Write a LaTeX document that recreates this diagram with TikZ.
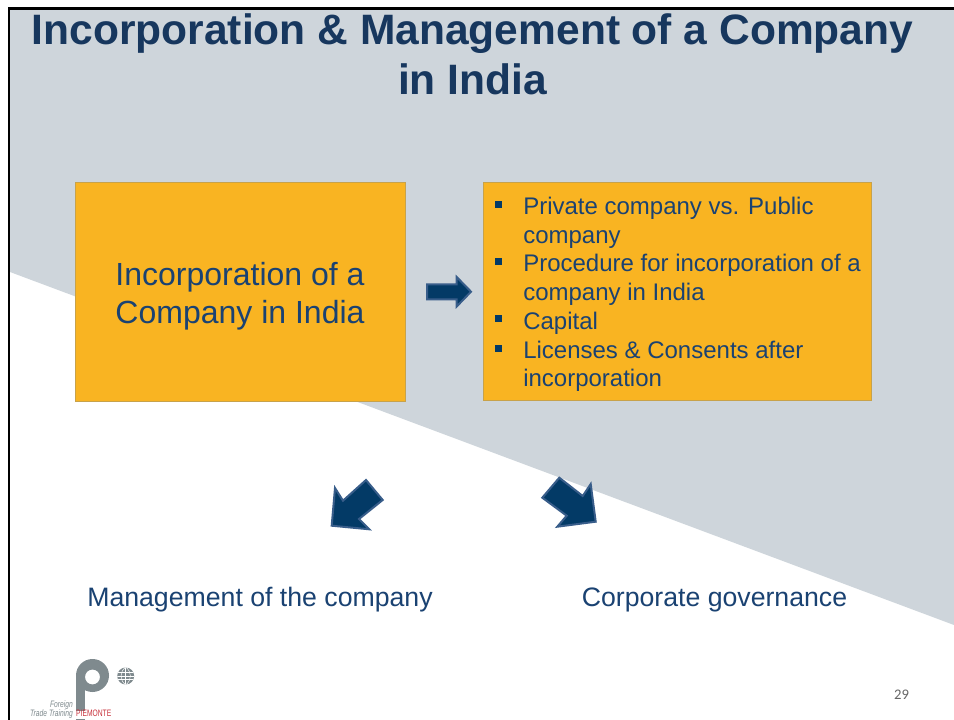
\documentclass[tikz,border=0pt]{standalone}
\usepackage{fontspec}
\setmainfont{Liberation Sans}
\newfontfamily\pagefont{Carlito}
\definecolor{navy}{HTML}{17375E}
\definecolor{bodyblue}{HTML}{1A4272}
\definecolor{arrowfill}{HTML}{033A66}
\definecolor{arrowline}{HTML}{385D8A}
\definecolor{panel}{HTML}{CED5DB}
\definecolor{amber}{HTML}{F9B422}
\definecolor{amberline}{HTML}{C8A24A}
\definecolor{logogray}{HTML}{7F8A8E}
\definecolor{logored}{HTML}{C8323C}
\tikzset{
  x=0.75pt,y=-0.75pt,
  box/.style={fill=amber,draw=amberline,line width=0.5pt},
  bluearrow/.style={fill=arrowfill,draw=arrowline,line width=1.5pt,line join=miter},
  label/.style={text=navy,inner sep=0pt,align=center},
  bodylabel/.style={text=bodyblue,inner sep=0pt,align=center},
  bul/.style={text=bodyblue,inner sep=0pt,anchor=base west,font=\fontsize{18}{18}\selectfont},
  sq/.style={fill=arrowfill,draw=none},
  logotext/.style={inner sep=0pt,xscale=0.72,transform shape}
}
\begin{document}
\begin{tikzpicture}
\useasboundingbox (0,0) rectangle (954,720);
\fill[white] (0,0) rectangle (954,720);
\fill[panel] (10,10) -- (954,10) -- (954,625) -- (10,272) -- cycle;
\draw[black,line width=1.6pt] (9,720) -- (9,8.5) -- (954,8.5);
\node[label,font=\bfseries\fontsize{31.9}{37.5}\selectfont] (title) at (472.5,54) {Incorporation \& Management of a Company\\in India};
\node[box,minimum width=247.5pt,minimum height=164.5pt,inner sep=0pt] (left) at (240,292) {};
\node[bodylabel,font=\fontsize{24}{28.5}\selectfont] (lefttext) at (240,296.5) {Incorporation of a\\Company in India};
\node[box,minimum width=291pt,minimum height=163.5pt,inner sep=0pt] (right) at (677.5,291) {};
\foreach \yy/\tx in {215/Private company vs. Public,243.5/company,272/Procedure for incorporation of a,301/company in India,330/Capital,359/Licenses \& Consents after,387/incorporation}{
  \node[bul] at (523,\yy) {\tx};
}
\foreach \yy in {205,262,319,349}{
  \fill[sq] (495,\yy-3.5) rectangle (502,\yy+3.5);
}
\draw[bluearrow] (427,284.3) -- (456.7,284.3) -- (456.7,277) -- (471,291.7) -- (456.7,306.5) -- (456.7,299.3) -- (427,299.3) -- cycle;
\draw[bluearrow] (366,480) -- (382.7,500) -- (359,519) -- (369.3,529.3) -- (331.7,525.7) -- (335,488) -- (343,500.7) -- cycle;
\draw[bluearrow] (542.3,497.7) -- (559.3,477.7) -- (582.7,496) -- (590.7,484) -- (595.7,521.7) -- (557.3,526.7) -- (566.7,515.7) -- cycle;
\node[bodylabel,font=\fontsize{20}{24}\selectfont] (mgmt) at (260,600) {Management of the company};
\node[bodylabel,font=\fontsize{20}{24}\selectfont] (gov) at (714.5,600) {Corporate governance};
\node[inner sep=0pt,text=black!60,font=\pagefont\fontsize{11}{12}\selectfont] (page) at (901.5,695) {29};
% logo
\fill[logogray,even odd rule] (92.5,675.5) circle[radius=16.5] (92.5,677) circle[radius=7.5];
\fill[logogray] (76,676) rectangle (85,711);
\fill[logogray] (76,718.5) rectangle (85,720);
\fill[logogray] (125.7,676) circle[radius=8.5];
\begin{scope}
\clip (125.7,676) circle[radius=8.5];
\draw[white,line width=0.35pt] (117,672.5) -- (134,672.5) (117,676) -- (134,676) (117,679.5) -- (134,679.5) (125.7,667) -- (125.7,685);
\draw[white,line width=0.35pt] (125.7,667) .. controls (119.5,672) and (119.5,680) .. (125.7,685) (125.7,667) .. controls (132,672) and (132,680) .. (125.7,685);
\end{scope}
\node[logotext,anchor=base east,text=logogray,font=\itshape\fontsize{7}{7}\selectfont] (lg1) at (73,707) {Foreign};
\node[logotext,anchor=base east,text=logogray,font=\itshape\fontsize{7}{7}\selectfont] (lg2) at (73,716.5) {Trade Training};
\node[logotext,anchor=base west,text=logored,font=\fontsize{7}{7}\selectfont] (lg3) at (76,716.5) {PIEMONTE};
\end{tikzpicture}
\end{document}
